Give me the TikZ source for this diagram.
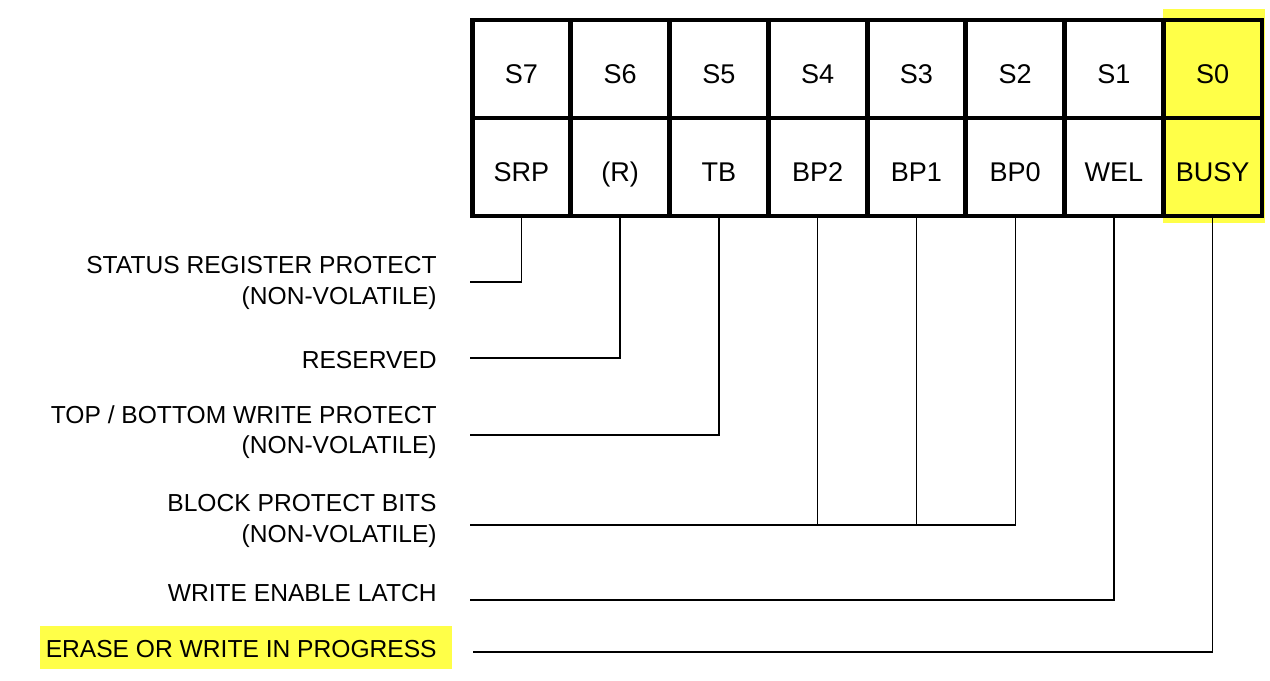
\documentclass[tikz,border=0pt]{standalone}
\usepackage{fontspec}
\setmainfont{Liberation Sans}
\definecolor{busyyellow}{RGB}{255,255,72}
\begin{document}
\begin{tikzpicture}[x=0.02cm,y=-0.02cm,
	cell/.style={draw,line width=2.8pt,minimum width=1.975cm,minimum height=1.96cm,inner sep=0pt,font=\fontsize{15.4}{18}\selectfont,text height=16pt,text depth=0pt},
	lbl/.style={anchor=east,align=right,inner sep=0pt,font=\fontsize{14}{17.5}\selectfont},
	wire/.style={line width=0.7pt}]
			\useasboundingbox (0,0) rectangle (1270,680);
			\fill[busyyellow] (1163,9) rectangle (1265,223);
			\fill[busyyellow] (40,626) rectangle (452,669);
			\node[cell] (s7) at (521.4,69) {S7};
			\node[cell] (s6) at (620.1,69) {S6};
			\node[cell] (s5) at (718.9,69) {S5};
			\node[cell] (s4) at (817.6,69) {S4};
			\node[cell] (s3) at (916.4,69) {S3};
			\node[cell] (s2) at (1015.1,69) {S2};
			\node[cell] (s1) at (1113.9,69) {S1};
			\node[cell] (s0) at (1212.6,69) {S0};
			\node[cell] (srp) at (521.4,167) {SRP};
			\node[cell] (res) at (620.1,167) {(R)};
			\node[cell] (tb) at (718.9,167) {TB};
			\node[cell] (bp2) at (817.6,167) {BP2};
			\node[cell] (bp1) at (916.4,167) {BP1};
			\node[cell] (bp0) at (1015.1,167) {BP0};
			\node[cell] (wel) at (1113.9,167) {WEL};
			\node[cell] (busy) at (1212.6,167) {BUSY};
			\node[lbl] (lsrp) at (437,283) {STATUS REGISTER PROTECT\\(NON-VOLATILE)};
			\node[lbl] (lres) at (437,360) {RESERVED};
			\node[lbl] (ltb) at (437,432) {TOP / BOTTOM WRITE PROTECT\\(NON-VOLATILE)};
			\node[lbl] (lbp) at (437,521) {BLOCK PROTECT BITS\\(NON-VOLATILE)};
			\node[lbl] (lwel) at (437,593) {WRITE ENABLE LATCH};
			\node[lbl] (lbusy) at (437,649) {ERASE OR WRITE IN PROGRESS};
			\coordinate (esrp) at (470,282);
			\coordinate (eres) at (470,358);
			\coordinate (etb) at (470,435);
			\coordinate (ebp) at (470,525);
			\coordinate (ewel) at (470,600);
			\coordinate (ebusy) at (473,652);
			\draw[wire] (srp.south) |- (esrp);
			\draw[wire] (res.south) |- (eres);
			\draw[wire] (tb.south) |- (etb);
			\draw[wire] (bp0.south) |- (ebp);
			\draw[wire] (bp1.south) -- (bp1.south |- ebp);
			\draw[wire] (bp2.south) -- (bp2.south |- ebp);
			\draw[wire] (wel.south) |- (ewel);
			\draw[wire] (busy.south) |- (ebusy);
			\end{tikzpicture}
\end{document}
